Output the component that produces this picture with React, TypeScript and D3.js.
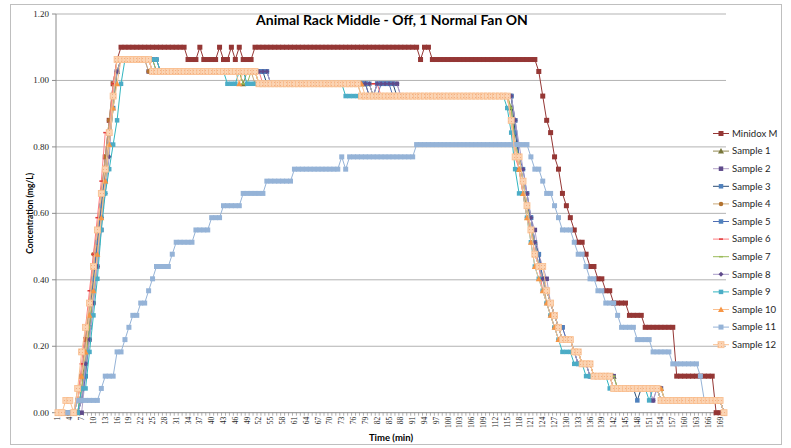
import React from 'react';
import * as d3 from 'd3';

type Run = [number, number];

const categories: number[] = Array.from({ length: 170 }, (_, i) => i + 1);
const yTicks = [0, 0.2, 0.4, 0.6, 0.8, 1.0, 1.2];
const seriesNames = ['Minidox M', 'Sample 1', 'Sample 2', 'Sample 3', 'Sample 4', 'Sample 5', 'Sample 6', 'Sample 7', 'Sample 8', 'Sample 9', 'Sample 10', 'Sample 11', 'Sample 12'];

// Values as runs: [concentration, number of consecutive minutes]
const minidoxM: Run[] = [
  [0, 5], [0.037, 1], [0.11, 1], [0.22, 1], [0.33, 1], [0.44, 1], [0.55, 1], [0.66, 1], [0.77, 1], [0.88, 1], [0.99, 1], [1.063, 1],
  [1.10, 17], [1.063, 3], [1.10, 1], [1.063, 4], [1.10, 1], [1.063, 2], [1.10, 1], [1.063, 1], [1.10, 1], [1.063, 3],
  [1.10, 42], [1.063, 1], [1.10, 2], [1.063, 27],
  [1.027, 1], [0.953, 1], [0.88, 1], [0.843, 1], [0.77, 1], [0.733, 1], [0.66, 1], [0.623, 1], [0.587, 1], [0.55, 1], [0.513, 2], [0.477, 1], [0.44, 2], [0.403, 2], [0.367, 2],
  [0.33, 4], [0.293, 4], [0.257, 8], [0.11, 10], [0, 3],
];
const sample1: Run[] = [
  [0, 6], [0.073, 1], [0.183, 1], [0.293, 1], [0.403, 1], [0.513, 1], [0.623, 1], [0.733, 1], [0.843, 1], [0.953, 1], [1.027, 1],
  [1.063, 8], [1.027, 23], [0.99, 1], [1.027, 3], [0.99, 28], [0.953, 36],
  [0.917, 1], [0.807, 1], [0.733, 1], [0.66, 1], [0.623, 1], [0.55, 1], [0.513, 1], [0.44, 1], [0.403, 1], [0.367, 1], [0.33, 1], [0.293, 1], [0.257, 1],
  [0.22, 3], [0.183, 2], [0.147, 3], [0.11, 6], [0.073, 12], [0.037, 15], [0, 1],
];
const sample2: Run[] = [
  [0, 7], [0.11, 1], [0.22, 1], [0.33, 1], [0.44, 1], [0.55, 1], [0.697, 1], [0.843, 1], [0.953, 1], [1.027, 1],
  [1.063, 7], [1.027, 31], [0.99, 25], [0.953, 2], [0.99, 6], [0.953, 28],
  [0.953, 1], [0.88, 1], [0.77, 1], [0.697, 1], [0.66, 1], [0.587, 1], [0.55, 1], [0.477, 1], [0.44, 1], [0.403, 1], [0.33, 1], [0.293, 1], [0.257, 2],
  [0.22, 2], [0.183, 2], [0.147, 3], [0.11, 6], [0.073, 9], [0.037, 1], [0.073, 2], [0.037, 15], [0, 1],
];
const sample3: Run[] = [
  [0, 6], [0.037, 1], [0.147, 1], [0.257, 1], [0.367, 1], [0.477, 1], [0.587, 1], [0.697, 1], [0.807, 1], [0.917, 1], [1.027, 1],
  [1.063, 10], [1.027, 27], [0.99, 27], [0.953, 1], [0.99, 5], [0.953, 29],
  [0.953, 1], [0.843, 1], [0.77, 1], [0.697, 1], [0.623, 1], [0.587, 1], [0.513, 1], [0.477, 1], [0.403, 1], [0.367, 1], [0.33, 1], [0.293, 1], [0.257, 1], [0.22, 1],
  [0.22, 2], [0.183, 1], [0.147, 3], [0.11, 6], [0.073, 6], [0.037, 1], [0.073, 5], [0.037, 16], [0, 1],
];
const sample4: Run[] = [
  [0, 5], [0.073, 1], [0.11, 1], [0.22, 1], [0.33, 1], [0.477, 1], [0.55, 1], [0.66, 1], [0.77, 1], [0.88, 1], [0.99, 1], [1.063, 1],
  [1.063, 7], [1.027, 27], [0.99, 27], [0.953, 38],
  [0.88, 1], [0.807, 1], [0.733, 1], [0.66, 1], [0.587, 1], [0.55, 1], [0.477, 1], [0.44, 1], [0.403, 1], [0.33, 1], [0.293, 1], [0.257, 2],
  [0.22, 3], [0.183, 2], [0.147, 3], [0.11, 5], [0.073, 12], [0.037, 16], [0, 1],
];
const sample5: Run[] = [
  [0, 6], [0.037, 1], [0.11, 1], [0.257, 1], [0.403, 1], [0.513, 1], [0.623, 1], [0.733, 1], [0.843, 1], [0.953, 1], [1.027, 1],
  [1.063, 9], [1.027, 29], [0.99, 25], [0.953, 3], [0.99, 3], [0.953, 31],
  [0.88, 1], [0.77, 1], [0.733, 1], [0.66, 1], [0.587, 1], [0.513, 1], [0.477, 1], [0.403, 1], [0.367, 1], [0.33, 1], [0.293, 1], [0.257, 2],
  [0.22, 2], [0.183, 1], [0.147, 3], [0.11, 6], [0.073, 12], [0.037, 16], [0, 1],
];
const sample6: Run[] = [
  [0, 5], [0.037, 1], [0.147, 1], [0.257, 1], [0.367, 1], [0.477, 1], [0.587, 1], [0.697, 1], [0.843, 2], [0.99, 1], [1.063, 1],
  [1.063, 8], [1.027, 28], [0.99, 30], [0.953, 33],
  [0.88, 1], [0.77, 1], [0.733, 1], [0.66, 1], [0.587, 1], [0.55, 1], [0.477, 1], [0.44, 1], [0.367, 1], [0.33, 1], [0.293, 1], [0.257, 1], [0.22, 1],
  [0.22, 3], [0.183, 2], [0.147, 3], [0.11, 5], [0.073, 12], [0.037, 16], [0, 1],
];
const sample7: Run[] = [
  [0, 6], [0.073, 1], [0.147, 1], [0.257, 1], [0.367, 1], [0.477, 1], [0.587, 1], [0.697, 1], [0.807, 1], [0.917, 1], [1.027, 1],
  [1.063, 9], [1.027, 22], [0.99, 2], [1.027, 2], [0.99, 29], [0.953, 35],
  [0.917, 1], [0.807, 1], [0.77, 1], [0.697, 1], [0.623, 1], [0.55, 1], [0.513, 1], [0.44, 1], [0.403, 1], [0.367, 1], [0.33, 1], [0.293, 1], [0.257, 1], [0.22, 1],
  [0.22, 2], [0.183, 2], [0.147, 3], [0.11, 6], [0.073, 12], [0.037, 15], [0, 1],
];
const sample8: Run[] = [
  [0, 6], [0.037, 1], [0.147, 1], [0.22, 1], [0.33, 1], [0.44, 1], [0.587, 1], [0.66, 1], [0.77, 1], [0.953, 1], [1.027, 1],
  [1.063, 10], [1.027, 28], [0.99, 26], [0.953, 1], [0.99, 6], [0.953, 29],
  [0.88, 1], [0.807, 1], [0.733, 1], [0.66, 1], [0.587, 1], [0.513, 1], [0.44, 1], [0.403, 1], [0.367, 1], [0.33, 1], [0.293, 1], [0.257, 1],
  [0.22, 3], [0.183, 1], [0.147, 3], [0.11, 6], [0.073, 10], [0.037, 1], [0.073, 1], [0.037, 16], [0, 1],
];
const sample9: Run[] = [
  [0, 6], [0.073, 2], [0.183, 1], [0.293, 1], [0.403, 1], [0.55, 1], [0.66, 1], [0.733, 1], [0.807, 1], [0.88, 1], [0.99, 1],
  [1.063, 9], [1.027, 17], [0.99, 3], [1.027, 2], [0.99, 25], [0.953, 41],
  [0.917, 1], [0.843, 1], [0.733, 1], [0.66, 2], [0.587, 1], [0.513, 1], [0.44, 1], [0.403, 1], [0.367, 1], [0.33, 1], [0.293, 1], [0.257, 1], [0.22, 1],
  [0.183, 3], [0.147, 3], [0.11, 6], [0.073, 10], [0.037, 1], [0.073, 2], [0.037, 16], [0, 1],
];
const sample10: Run[] = [
  [0, 5], [0.037, 1], [0.11, 1], [0.183, 1], [0.293, 1], [0.367, 1], [0.477, 1], [0.587, 1], [0.697, 1], [0.807, 1], [0.917, 1], [0.99, 1], [1.063, 1],
  [1.063, 7], [1.027, 22], [0.99, 1], [1.027, 4], [0.99, 27], [0.953, 37],
  [0.88, 1], [0.807, 1], [0.733, 1], [0.66, 1], [0.587, 1], [0.513, 1], [0.44, 1], [0.403, 1], [0.367, 1], [0.33, 1], [0.293, 1], [0.257, 1], [0.22, 1],
  [0.22, 3], [0.183, 2], [0.147, 3], [0.11, 5], [0.073, 13], [0.037, 15], [0, 1],
];
const sample11: Run[] = [
  [0, 5], [0.037, 6], [0.073, 1], [0.11, 3], [0.183, 2], [0.22, 1], [0.257, 1], [0.293, 2], [0.33, 2],
  [0.367, 1], [0.403, 1], [0.44, 4], [0.477, 1], [0.513, 5], [0.55, 4], [0.587, 3], [0.623, 5], [0.66, 6], [0.697, 7], [0.733, 12], [0.77, 1], [0.733, 1], [0.77, 17], [0.807, 29],
  [0.77, 1], [0.733, 2], [0.697, 1], [0.66, 2], [0.623, 1], [0.587, 1], [0.55, 3], [0.513, 1], [0.477, 2], [0.44, 1], [0.403, 2], [0.367, 2], [0.33, 3], [0.293, 1],
  [0.257, 4], [0.22, 4], [0.183, 5], [0.147, 7], [0.11, 1], [0.037, 5], [0, 1],
];
const sample12: Run[] = [
  [0, 2], [0.037, 2], [0, 1], [0.073, 1], [0.183, 1], [0.257, 1], [0.33, 1], [0.44, 1], [0.55, 1], [0.66, 1], [0.733, 1], [0.843, 1], [0.953, 1],
  [1.063, 9], [1.027, 27], [0.99, 26], [0.953, 38],
  [0.88, 1], [0.77, 2], [0.697, 1], [0.623, 1], [0.55, 1], [0.477, 1], [0.44, 2], [0.367, 1], [0.33, 1], [0.293, 1], [0.257, 1],
  [0.22, 3], [0.183, 2], [0.147, 3], [0.11, 5], [0.073, 12], [0.037, 16], [0, 1],
];

type Marker = 'square' | 'triangle' | 'circle' | 'diamond' | 'dash' | 'none' | 'patsquare';
interface Style { line: string; marker: string; shape: Marker; size: number; stroke?: string }

const styles: Style[] = [
  { line: '#953735', marker: '#953735', shape: 'square', size: 5 },
  { line: '#948A54', marker: '#77763A', shape: 'triangle', size: 5 },
  { line: '#B3A2C7', marker: '#5F4B8B', shape: 'square', size: 4.5 },
  { line: '#2C4D75', marker: '#4F81BD', shape: 'square', size: 4.5 },
  { line: '#C9A878', marker: '#B37330', shape: 'circle', size: 4.5 },
  { line: '#4F6EB4', marker: '#4F81BD', shape: 'square', size: 4.5 },
  { line: '#FF7C80', marker: '#E03B3B', shape: 'dash', size: 4 },
  { line: '#9BBB59', marker: '#9BBB59', shape: 'dash', size: 4 },
  { line: '#A89CC8', marker: '#5F4B8B', shape: 'diamond', size: 5 },
  { line: '#31B6C0', marker: '#4BACC6', shape: 'square', size: 4.5 },
  { line: '#FAC090', marker: '#F79646', shape: 'triangle', size: 5 },
  { line: '#95B3D7', marker: '#95B3D7', shape: 'square', size: 5 },
  { line: '#FAC090', marker: 'url(#peachPat)', shape: 'patsquare', size: 6, stroke: '#F9BE8E' },
];

const allRuns: Run[][] = [minidoxM, sample1, sample2, sample3, sample4, sample5, sample6, sample7, sample8, sample9, sample10, sample11, sample12];

function expand(runs: Run[]): number[] {
  const out: number[] = [];
  runs.forEach(([v, n]) => { for (let i = 0; i < n; i++) out.push(v); });
  return out.slice(0, categories.length);
}

const W = 791, H = 448;
const plotL = 56, plotR = 726, plotT = 14, plotB = 412.7;

function MarkerShape({ x, y, s }: { x: number; y: number; s: Style }) {
  const h = s.size / 2;
  switch (s.shape) {
    case 'square':
    case 'patsquare':
      return <rect x={x - h} y={y - h} width={s.size} height={s.size} fill={s.marker} stroke={s.stroke || 'none'} strokeWidth={0.8} />;
    case 'triangle':
      return <path d={`M${x},${y - h - 0.5}L${x + h + 0.5},${y + h}L${x - h - 0.5},${y + h}Z`} fill={s.marker} />;
    case 'circle':
      return <circle cx={x} cy={y} r={h} fill={s.marker} />;
    case 'diamond':
      return <path d={`M${x},${y - h}L${x + h},${y}L${x},${y + h}L${x - h},${y}Z`} fill={s.marker} />;
    case 'dash':
      return <rect x={x - h} y={y - 0.75} width={s.size} height={1.5} fill={s.marker} />;
    default:
      return null;
  }
}

export default function App() {
  const x = d3.scaleBand<number>().domain(categories).range([plotL, plotR]).paddingInner(0).paddingOuter(0);
  const bw = x.bandwidth();
  const cx = (c: number) => (x(c) as number) + bw / 2;
  const y = d3.scaleLinear().domain([0, 1.2]).range([plotB, plotT]);
  const series = allRuns.map(expand);
  const line = d3.line<number>().x((_, i) => cx(categories[i])).y((d) => y(d));

  const legendX = 713, legendY0 = 133.5, legendStep = 17.6;

  return (
    <svg width={W} height={H} style={{ position: 'absolute', left: 0, top: 0, background: '#fff' }}>
      <defs>
        <pattern id="peachPat" width="3" height="3" patternUnits="userSpaceOnUse">
          <rect width="3" height="3" fill="#FBD4B4" />
          <rect x="1" y="1" width="1" height="1" fill="#F2AE82" />
        </pattern>
      </defs>
      <rect x={10.5} y={4.5} width={771} height={440} fill="#fff" stroke="#BFBFBF" />
      {yTicks.slice(1).map((t) => (
        <line key={t} x1={plotL} x2={plotR} y1={y(t)} y2={y(t)} stroke="#B3B3B3" strokeWidth={1} />
      ))}
      <line x1={plotL} x2={plotL} y1={plotT} y2={plotB} stroke="#8C8C8C" />
      <line x1={plotL} x2={plotR} y1={plotB} y2={plotB} stroke="#8C8C8C" />
      {yTicks.map((t) => (
        <g key={'yt' + t}>
          <line x1={plotL - 4} x2={plotL} y1={y(t)} y2={y(t)} stroke="#8C8C8C" />
          <text x={plotL - 7} y={y(t)} dy="0.33em" textAnchor="end" fontFamily="Liberation Serif" fontSize={9} fill="#262626">{t.toFixed(2)}</text>
        </g>
      ))}
      {categories.concat([171]).map((c) => {
        const xx = c === 171 ? plotR : (x(c) as number);
        return <line key={'xt' + c} x1={xx} x2={xx} y1={plotB} y2={plotB + 3} stroke="#8C8C8C" strokeWidth={0.7} />;
      })}
      {categories.filter((c) => (c - 1) % 3 === 0).map((c) => (
        <text key={'xl' + c} transform={`translate(${cx(c)},${plotB + 4}) rotate(-90)`} dy="0.33em" textAnchor="end" fontFamily="Liberation Serif" fontSize={7.5} fill="#262626">{c}</text>
      ))}
      {series.map((vals, si) => {
        const s = styles[si];
        return (
          <g key={'s' + si}>
            <path d={line(vals) || ''} fill="none" stroke={s.line} strokeWidth={1} />
            {vals.map((v, i) => (
              <MarkerShape key={i} x={cx(categories[i])} y={y(v)} s={s} />
            ))}
          </g>
        );
      })}
      <text x={392} y={25} textAnchor="middle" fontFamily="Lato" fontWeight="bold" fontSize={14} fill="#000">Animal Rack Middle - Off, 1 Normal Fan ON</text>
      <text transform={`translate(33,${(plotT + plotB) / 2}) rotate(-90)`} textAnchor="middle" fontFamily="Lato" fontWeight="bold" fontSize={8.5} fill="#000">Concentration (mg/L)</text>
      <text x={391} y={441} textAnchor="middle" fontFamily="Lato" fontWeight="bold" fontSize={9.5} fill="#000">Time (min)</text>
      {seriesNames.map((n, i) => {
        const ly = legendY0 + i * legendStep;
        const s = styles[i];
        return (
          <g key={'lg' + i}>
            <line x1={legendX} x2={legendX + 16} y1={ly} y2={ly} stroke={s.line} strokeWidth={1} />
            <MarkerShape x={legendX + 8} y={ly} s={s} />
            <text x={legendX + 19} y={ly} dy="0.35em" fontFamily="Lato" fontSize={9.6} fill="#262626">{n}</text>
          </g>
        );
      })}
    </svg>
  );
}
